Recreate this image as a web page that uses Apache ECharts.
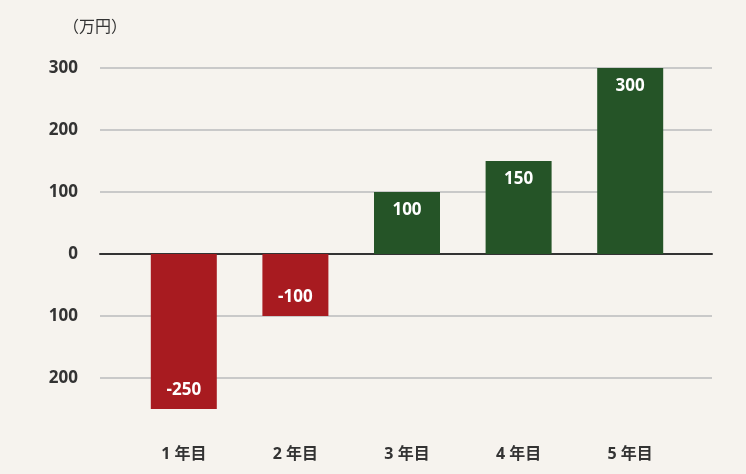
<!DOCTYPE html>
<html><head><meta charset="utf-8">
<script src="https://cdn.jsdelivr.net/npm/echarts@6/dist/echarts.min.js"></script>
<style>html,body{margin:0;background:#f6f3ee}#c{width:746px;height:474px}</style>
</head><body><div id="c"></div>
<script>
var categories = ['1 年目', '2 年目', '3 年目', '4 年目', '5 年目'];
var values = [-250, -100, 100, 150, 300];
var unitLabel = '（万円）';

var chart = echarts.init(document.getElementById('c'));
var font = '"Noto Sans", "Noto Sans CJK JP", sans-serif';
var yBase = { type: 'value', min: -300, max: 300, interval: 100 };

var barData = values.map(function (v) {
    return {
        value: v,
        itemStyle: { color: v < 0 ? '#a81b20' : '#255427' },
        label: { position: v < 0 ? 'insideBottom' : 'insideTop' }
    };
});

chart.setOption({
    backgroundColor: '#f6f3ee',
    textStyle: { fontFamily: font },
    title: {
        text: unitLabel, left: 58, top: 14,
        textStyle: { fontSize: 16, fontWeight: 'normal', color: '#333', fontFamily: font }
    },
    grid: [
        { left: 100, right: 34, top: 68, bottom: 34 },
        { left: 128, right: 60, top: 68, bottom: 34 }
    ],
    xAxis: [
        { gridIndex: 0, type: 'category', data: categories,
          axisLine: { onZero: true, lineStyle: { color: '#333', width: 2 } },
          axisTick: { show: false }, axisLabel: { show: false } },
        { gridIndex: 1, type: 'category', data: categories, position: 'bottom',
          axisLine: { show: false, onZero: false }, axisTick: { show: false },
          axisLabel: { margin: 6, color: '#333', fontSize: 16, fontWeight: 'bold' } }
    ],
    yAxis: [
        Object.assign({ gridIndex: 0 }, yBase, {
            axisLine: { show: false }, axisTick: { show: false },
            axisLabel: { showMinLabel: false, margin: 22, color: '#333', fontSize: 17, fontWeight: 'bold',
                formatter: function (v) { return Math.abs(v); } },
            splitLine: { showMinLine: false, lineStyle: { color: '#c9c9c9', width: 2 } }
        }),
        Object.assign({ gridIndex: 1 }, yBase, { show: false, splitLine: { show: false } })
    ],
    series: [{
        type: 'bar', xAxisIndex: 1, yAxisIndex: 1, barWidth: 66,
        data: barData,
        label: { show: true, color: '#fff', fontSize: 17, fontWeight: 'bold', distance: 10 }
    }]
});
</script></body></html>
